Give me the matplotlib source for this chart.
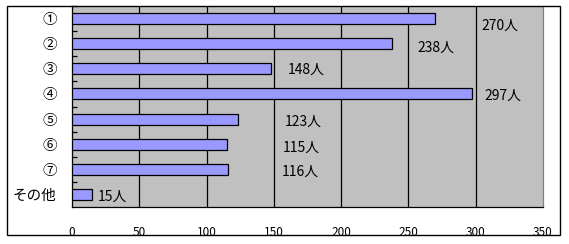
import matplotlib
matplotlib.use("Agg")
import matplotlib.pyplot as plt
from matplotlib.patches import Rectangle
from matplotlib.ticker import FixedLocator

plt.rcParams['font.family'] = ['Noto Sans CJK JP', 'DejaVu Sans']

categories = ['①', '②', '③', '④', '⑤', '⑥', '⑦', 'その他']
values = [270, 238, 148, 297, 123, 115, 116, 15]
label_texts = ['270人', '238人', '148人', '297人', '123人', '115人', '116人', '15人']
xticks = [0, 50, 100, 150, 200, 250, 300, 350]

# label anchor positions (data coordinates), as placed in the original chart
label_x = [304.5, 256.6, 160.0, 306.4, 158.3, 156.6, 155.5, 18.8]
label_y = [0.27, 1.17, 2.04, 3.08, 4.10, 5.15, 6.10, 7.09]

W, H = 569, 244
fig = plt.figure(figsize=(W / 100, H / 100), dpi=100)
fig.patch.set_facecolor('white')

# outer frame
fig.add_artist(Rectangle((7 / W, (H - 235) / H), 553 / W, 229 / H,
                         transform=fig.transFigure, fill=False,
                         edgecolor='black', linewidth=1.0))

ax = fig.add_axes([72 / W, (H - 207) / H, 471 / W, 201 / H])
ax.set_facecolor('#C0C0C0')

y = list(range(len(categories)))
ax.barh(y, values, height=0.44, color='#9999FF', edgecolor='black', linewidth=0.9, zorder=3)

for x_, y_, t in zip(label_x, label_y, label_texts):
    ax.text(x_, y_, t, ha='left', va='center', fontsize=10, color='black', zorder=4)

ax.set_xlim(0, 350)
ax.set_ylim(len(categories) - 0.5, -0.5)
ax.set_xticks(xticks)
ax.set_xticklabels([str(v) for v in xticks], fontsize=8.5)
ax.tick_params(axis='x', length=0, pad=14)
ax.set_yticks(y)
ax.set_yticklabels(categories, fontsize=10.5)
ax.tick_params(axis='y', which='major', length=0, pad=11)
ax.yaxis.set_minor_locator(FixedLocator([i - 0.5 for i in range(len(categories))]))
ax.tick_params(axis='y', which='minor', direction='in', length=3.6, width=0.9, color='black')

for v in xticks[1:-1]:
    ax.axvline(v, color='black', linewidth=0.9, zorder=1)

ax.spines['left'].set_color('black')
ax.spines['bottom'].set_color('black')
ax.spines['top'].set_visible(False)
ax.spines['right'].set_color('#808080')
for s in ax.spines.values():
    s.set_linewidth(0.9)

fig.savefig('out.png', dpi=100)
